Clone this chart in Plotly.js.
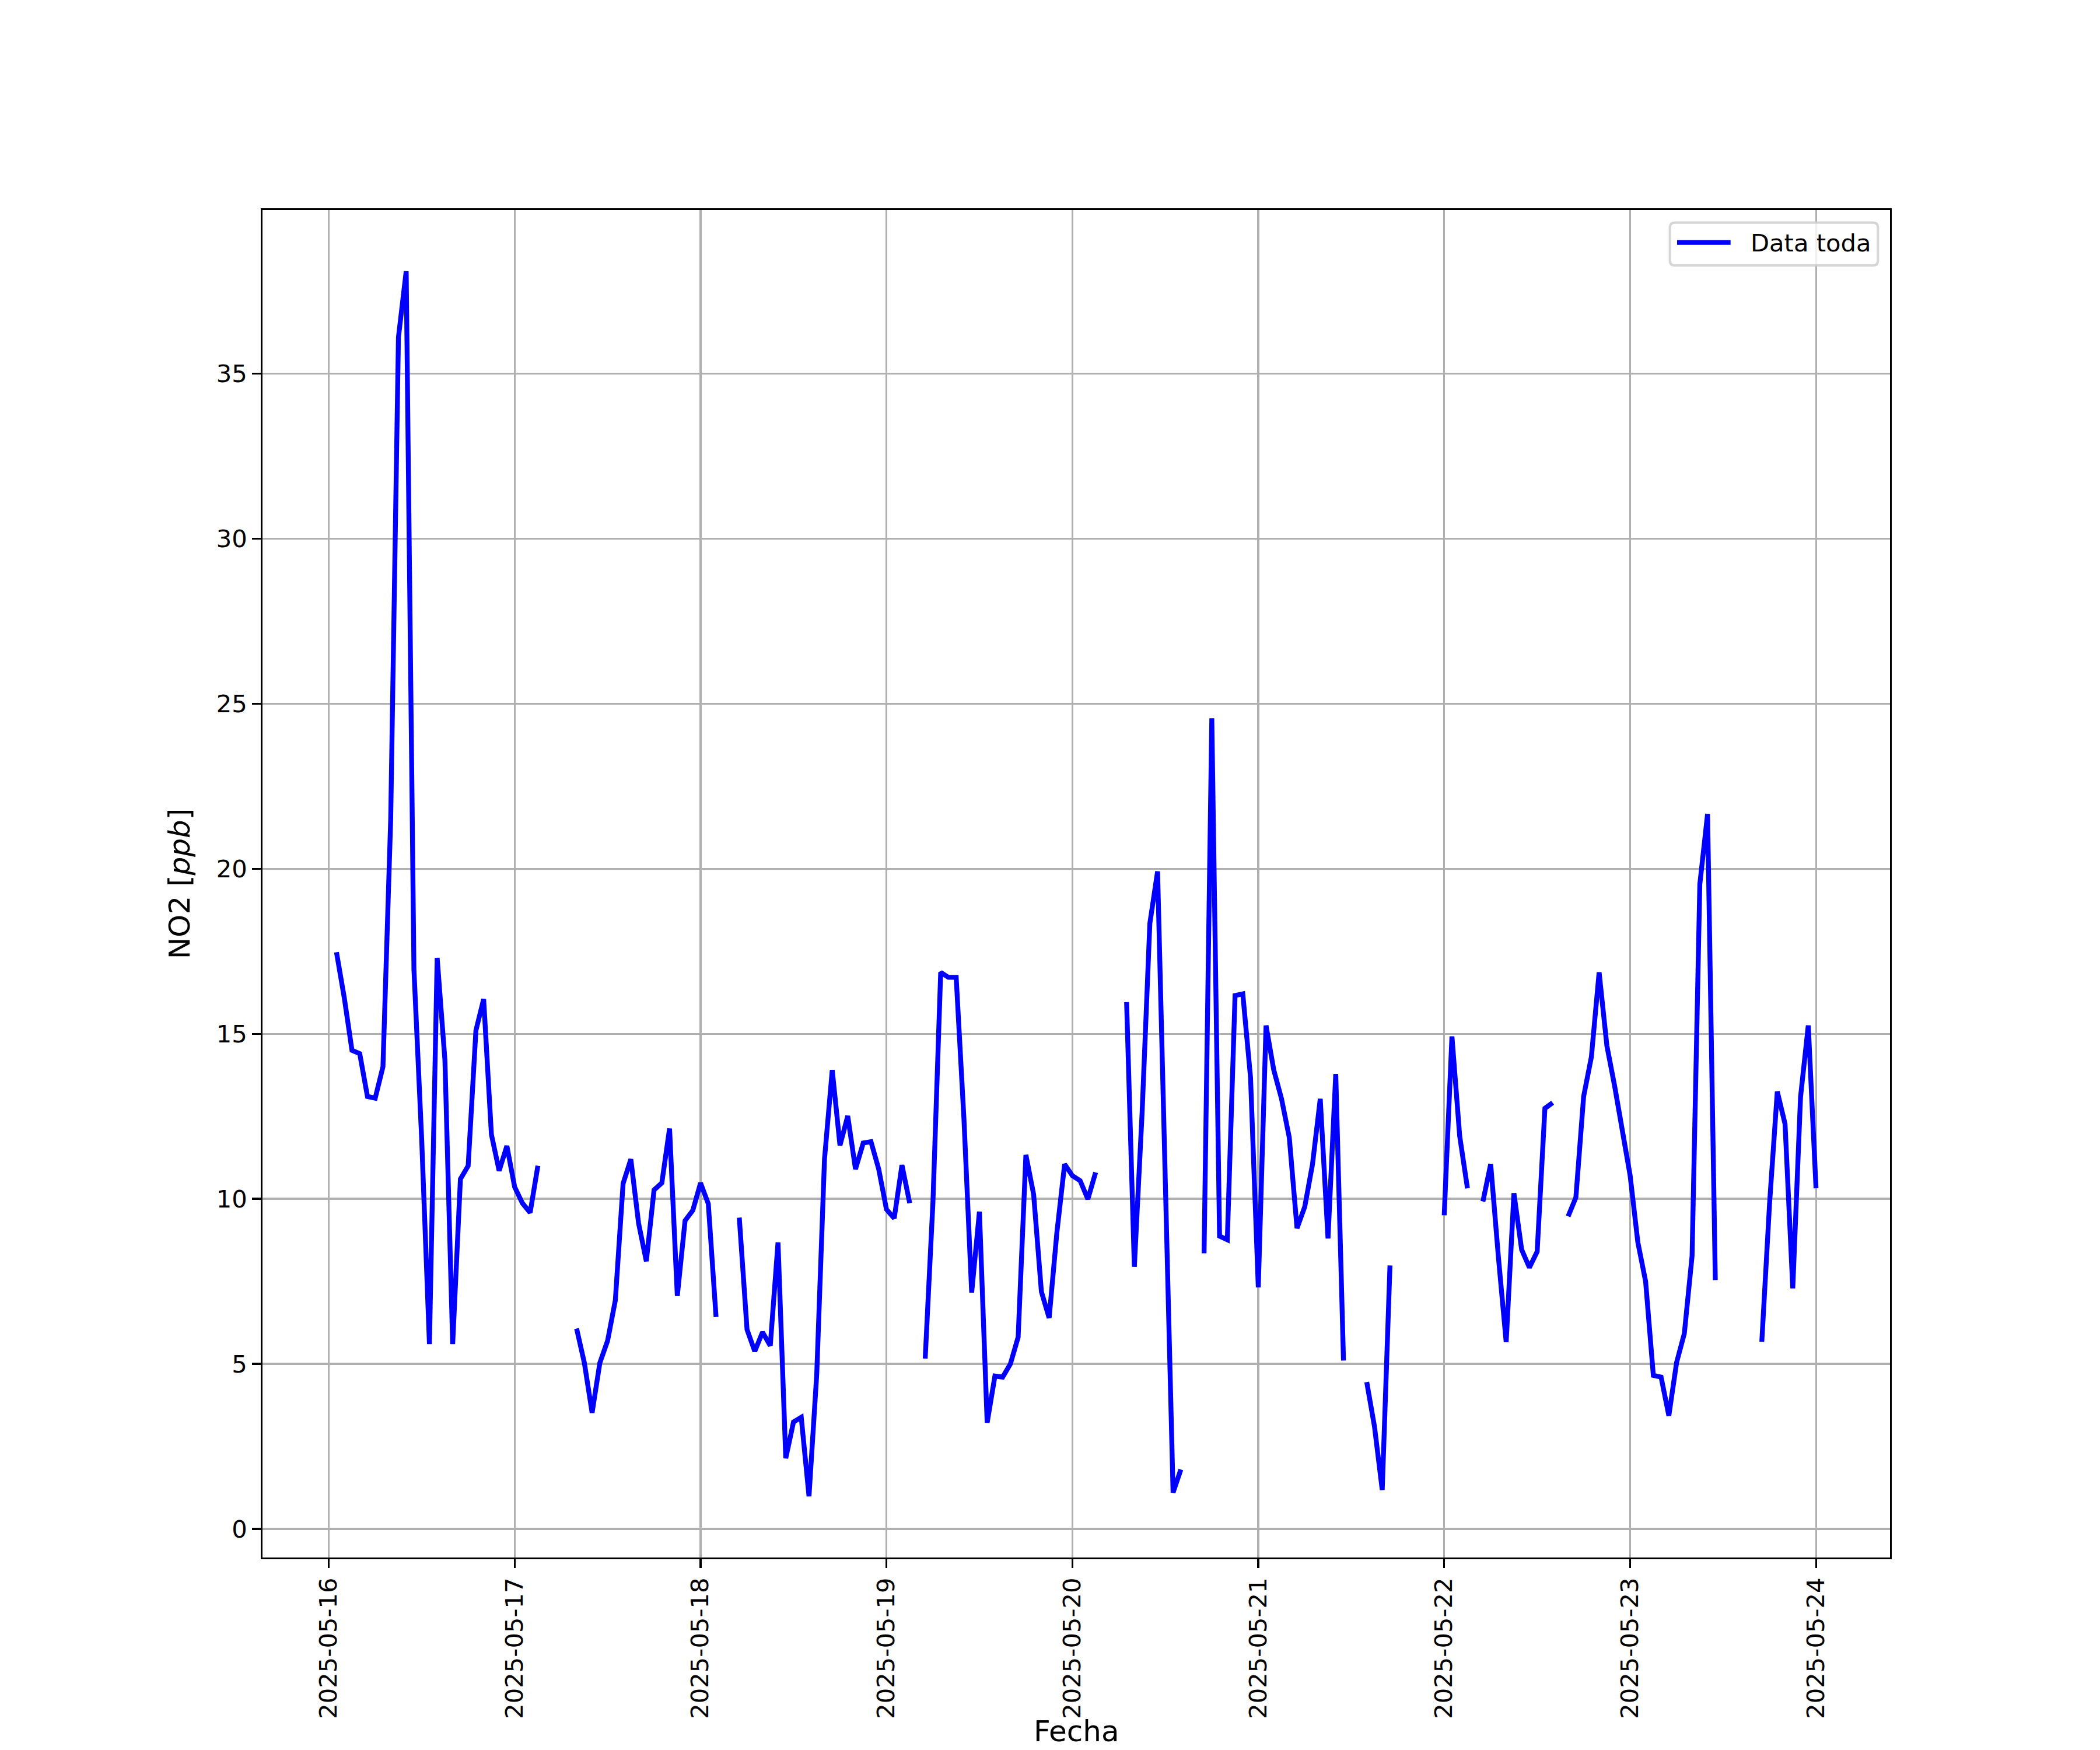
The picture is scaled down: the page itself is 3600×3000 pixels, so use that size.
<!DOCTYPE html>
<html>
<head>
<meta charset="utf-8">
<script src="https://cdn.plot.ly/plotly-3.0.1.min.js"></script>
<style>html,body{margin:0;padding:0;background:#fff;}#chart{width:3600px;height:3000px;}</style>
</head>
<body>
<div id="chart"></div>
<script>
// Hourly NO2 values (ppb), hours 00..23 of each day; null = missing
const dayLabels = ["2025-05-16","2025-05-17","2025-05-18","2025-05-19","2025-05-20","2025-05-21","2025-05-22","2025-05-23","2025-05-24"];
const no2_0516 = [null,17.47,16.1,14.5,14.4,13.1,13.05,14.0,21.5,36.1,38.1,16.95,11.8,5.6,17.3,14.2,5.6,10.6,11.0,15.1,16.05,11.95,10.85,11.6];
const no2_0517 = [10.36,9.87,9.58,11.0,null,null,null,null,6.07,5.03,3.52,5.03,5.7,6.93,10.46,11.2,9.26,8.11,10.27,10.48,12.13,7.06,9.34,9.65];
const no2_0518 = [10.48,9.85,6.42,null,null,9.43,6.04,5.38,5.96,5.55,8.68,2.14,3.24,3.38,0.99,4.69,11.2,13.9,11.62,12.51,10.9,11.69,11.73,10.9];
const no2_0519 = [9.68,9.41,11.02,9.87,null,5.16,9.9,16.86,16.71,16.71,12.43,7.16,9.61,3.22,4.63,4.6,5.0,5.81,11.33,10.13,7.19,6.39,8.98,11.05];
const no2_0520 = [10.7,10.55,9.99,10.8,null,null,null,15.96,7.94,12.6,18.34,19.92,10.6,1.1,1.8,null,null,8.35,24.56,8.87,8.76,16.16,16.21,13.67];
const no2_0521 = [7.32,15.25,13.9,13.03,11.86,9.11,9.76,11.05,13.03,8.8,13.78,5.1,null,null,4.45,3.1,1.18,7.98,null,null,null,null,null,null];
const no2_0522 = [9.5,14.92,11.9,10.32,null,9.92,11.05,8.23,5.66,10.17,8.46,7.92,8.4,12.74,12.91,null,9.47,10.04,13.1,14.3,16.86,14.64,13.42,12.01];
const no2_0523 = [10.71,8.68,7.5,4.65,4.6,3.43,5.04,5.92,8.27,19.53,21.66,7.54,null,null,null,null,null,5.67,9.85,13.25,12.27,7.29,13.08,15.25];
const no2_0524 = [10.32];
const seriesName = "Data toda";
const xTitle = "Fecha";
const yTitle = "NO2 [<i>ppb</i>]";

const days = [no2_0516,no2_0517,no2_0518,no2_0519,no2_0520,no2_0521,no2_0522,no2_0523,no2_0524];
const xs = [], ys = [];
days.forEach((vals, d) => {
  vals.forEach((v, h) => {
    const hh = String(h).padStart(2, "0");
    xs.push(dayLabels[d] + " " + hh + ":00:00");
    ys.push(v);
  });
});
// drop the leading missing hour so the series starts at 01:00
while (ys.length && ys[0] === null) { xs.shift(); ys.shift(); }

const PT = 300/72;
const font = "DejaVu Sans, sans-serif";
const BLUE = "#0000ff";

const trace = {
  x: xs, y: ys, type: "scatter", mode: "lines", name: seriesName,
  line: {color: BLUE, width: 2*PT},
  connectgaps: false, hoverinfo: "skip", showlegend: false
};

// legend box (matplotlib-style, drawn in paper coordinates)
const bx0 = 0.86477, bx1 = 0.99258, by0 = 0.95887, by1 = 0.99061;
const rx = 0.00297, ry = 0.0036;
const boxPath = `M ${bx0+rx},${by0} L ${bx1-rx},${by0} Q ${bx1},${by0} ${bx1},${by0+ry} L ${bx1},${by1-ry} Q ${bx1},${by1} ${bx1-rx},${by1} L ${bx0+rx},${by1} Q ${bx0},${by1} ${bx0},${by1-ry} L ${bx0},${by0+ry} Q ${bx0},${by0} ${bx0+rx},${by0} Z`;

const layout = {
  width: 3600, height: 3000,
  margin: {l: 450, r: 360, t: 360, b: 330, pad: 0},
  paper_bgcolor: "#ffffff", plot_bgcolor: "#ffffff",
  font: {family: font, size: 10*PT, color: "#000"},
  showlegend: false,
  shapes: [
    {type: "path", xref: "paper", yref: "paper", path: boxPath,
     fillcolor: "rgba(255,255,255,0.8)", line: {color: "rgba(204,204,204,0.8)", width: 1.0*PT}, layer: "above"},
    {type: "line", xref: "paper", yref: "paper", x0: 0.86918, x1: 0.90204, y0: 0.97589, y1: 0.97589,
     line: {color: BLUE, width: 2*PT}, layer: "above"}
  ],
  annotations: [
    {xref: "paper", yref: "paper", x: 0.91373, y: 0.97560, xanchor: "left", yanchor: "middle",
     text: seriesName, showarrow: false, font: {family: font, size: 10*PT, color: "#000"}},
    {xref: "paper", yref: "paper", x: 0.5, y: -0.1420, xanchor: "center", yanchor: "bottom",
     borderpad: 0, text: xTitle, showarrow: false, font: {family: font, size: 12*PT, color: "#000"}}
  ],
  xaxis: {
    type: "date",
    range: ["2025-05-15 15:27:00", "2025-05-24 09:33:00"],
    tickmode: "array",
    tickvals: dayLabels.map(d => d + " 00:00:00"),
    ticktext: dayLabels,
    tickangle: -90,
    ticks: "outside", ticklen: 3.5*PT, tickwidth: 0.8*PT, tickcolor: "#000",
    showline: true, linecolor: "#000", linewidth: 0.8*PT, mirror: true,
    showgrid: true, gridcolor: "#b0b0b0", gridwidth: 0.8*PT,
    zeroline: false,
    tickfont: {family: font, size: 10*PT, color: "#000"}
  },
  yaxis: {
    range: [-0.866, 39.956],
    tickmode: "linear", tick0: 0, dtick: 5,
    ticks: "outside", ticklen: 3.5*PT, tickwidth: 0.8*PT, tickcolor: "#000",
    showline: true, linecolor: "#000", linewidth: 0.8*PT, mirror: true,
    showgrid: true, gridcolor: "#b0b0b0", gridwidth: 0.8*PT,
    zeroline: false,
    tickfont: {family: font, size: 10*PT, color: "#000"},
    title: {text: yTitle, font: {family: font, size: 12*PT, color: "#000"}, standoff: 30}
  }
};

Plotly.newPlot("chart", [trace], layout, {staticPlot: true, displayModeBar: false});
</script>
</body>
</html>
